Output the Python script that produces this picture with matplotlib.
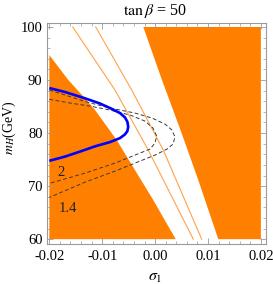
import matplotlib
matplotlib.use("Agg")  # headless
import matplotlib.pyplot as plt
from matplotlib.ticker import MultipleLocator, FormatStrFormatter

plt.rcParams["font.family"] = ["Liberation Serif", "DejaVu Serif"]
plt.rcParams["mathtext.fontset"] = "stix"

ORANGE = "#FF8000"
LINE_ORANGE = "#FFA24A"
FRAME = "#9A9A9A"

# excluded region on the left (boundary read top -> bottom)
left_s = [-0.02, -0.01641, -0.01325, -0.01136, -0.00726, -0.00034, 0.0039]
left_m = [94.7, 90.0, 86.55, 84.34, 78.68, 67.36, 60.0]

# excluded region on the right (left boundary, top -> bottom)
right_s = [-0.00223, 0.00130, 0.00503, 0.00817, 0.01195]
right_m = [100.0, 90.0, 79.94, 71.13, 60.0]

# two thin orange contours
line1_s = [-0.01558, -0.00758, -0.00129, 0.00722]
line1_m = [100.0, 88.11, 76.79, 60.0]
line2_s = [-0.01123, -0.00442, 0.00155, 0.00881]
line2_m = [100.0, 88.11, 76.79, 60.0]

# blue curve
blue_s = [-0.02, -0.01703, -0.01325, -0.01042, -0.00853, -0.00664, -0.00570, -0.00525,
          -0.00508, -0.00525, -0.00570, -0.00664, -0.00853, -0.01136, -0.01420, -0.01703, -0.02]
blue_m = [88.49, 87.74, 86.55, 85.57, 84.72, 83.77, 82.95, 82.15,
          81.20, 80.35, 79.75, 79.05, 78.30, 77.50, 76.51, 75.57, 74.77]

# dashed contour labelled 1.4 (outer)
c14_s = [-0.02, -0.01703, -0.01325, -0.00853, -0.00380, -0.00059, 0.00187, 0.00319,
         0.00376, 0.00338, 0.00225, -0.00002, -0.00380, -0.00758, -0.01325, -0.02]
c14_m = [88.11, 87.17, 85.94, 84.72, 83.77, 82.83, 81.70, 80.57,
         79.25, 77.92, 76.98, 75.85, 74.34, 72.83, 70.75, 67.87]

# dashed contour labelled 2 (inner)
c2_s = [-0.02, -0.01609, -0.01231, -0.00853, -0.00474, -0.00191, -0.00040, 0.00030,
        -0.00002, -0.00096, -0.00380, -0.00758, -0.01325, -0.02]
c2_m = [86.36, 85.66, 85.09, 84.34, 83.40, 82.26, 80.94, 79.43,
        78.11, 76.98, 75.85, 74.34, 72.45, 70.51]

contour_labels = ["2", "1.4"]
label_s = [-0.0184, -0.0183]
label_m = [72.6, 65.8]

fig = plt.figure(figsize=(2.73, 2.84), dpi=100)
ax = fig.add_axes([0.171, 0.141, 0.802, 0.779])

ax.fill(left_s + [-0.02], left_m + [60.0], color=ORANGE, lw=0)
ax.fill(right_s + [0.02, 0.02], right_m + [60.0, 100.0], color=ORANGE, lw=0)

ax.plot(line1_s, line1_m, color=LINE_ORANGE, lw=0.8)
ax.plot(line2_s, line2_m, color=LINE_ORANGE, lw=0.8)

ax.plot(c14_s, c14_m, color="#3a3a3a", lw=0.7, ls=(0, (4, 2.5)))
ax.plot(c2_s, c2_m, color="#3a3a3a", lw=0.7, ls=(0, (4, 2.5)))

ax.plot(blue_s, blue_m, color="#0000FF", lw=1.9, solid_capstyle="butt")

for lab, s, m in zip(contour_labels, label_s, label_m):
    ax.text(s, m, lab, fontsize=10.5, ha="left", va="center", color="#222222")

ax.set_xlim(-0.0205, 0.0209)
ax.set_ylim(59.1, 100.8)

ax.xaxis.set_major_locator(MultipleLocator(0.01))
ax.xaxis.set_minor_locator(MultipleLocator(0.002))
ax.yaxis.set_major_locator(MultipleLocator(10))
ax.yaxis.set_minor_locator(MultipleLocator(2))
ax.xaxis.set_major_formatter(FormatStrFormatter("%.2f"))
ax.yaxis.set_major_formatter(FormatStrFormatter("%d"))

ax.tick_params(which="both", direction="in", top=True, right=True, color=FRAME,
               labelsize=10.5, labelcolor="black")
ax.tick_params(which="major", length=4, width=0.6)
ax.tick_params(which="minor", length=2, width=0.5)
ax.tick_params(axis="x", pad=4)
ax.tick_params(axis="y", pad=3)
for sp in ax.spines.values():
    sp.set_color(FRAME)
    sp.set_linewidth(0.8)

fig.text(0.568, 0.963, r"$\tan\beta$ = 50", ha="center", va="center", fontsize=11.5)
fig.text(0.036, 0.55, r"$m_H$(GeV)", ha="center", va="center", rotation=90, fontsize=10)
fig.text(0.568, 0.025, r"$\sigma_1$", ha="center", va="center", fontsize=11.5)

fig.savefig("out.png", dpi=100)
plt.close(fig)
